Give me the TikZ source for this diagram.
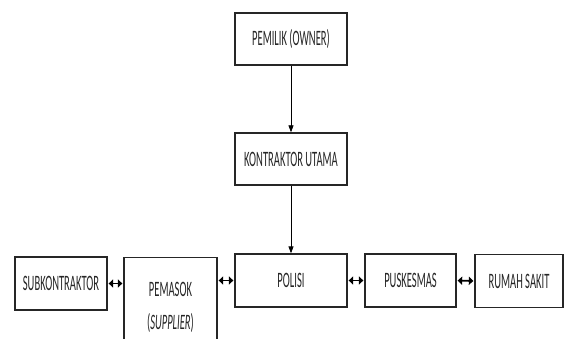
\documentclass[tikz,border=0pt]{standalone}
\usepackage{fontspec}
\setmainfont[FakeStretch=0.48]{Carlito}
\usetikzlibrary{arrows.meta}
\tikzstyle{unit}=[draw=black!85, line width=1.3pt, fill=white, align=center,
  text=black!85, font=\fontsize{22}{33}\selectfont, inner sep=0pt]
\tikzstyle{flow}=[line width=0.8pt, -{Triangle[length=7pt,width=5pt]}]
\tikzstyle{link}=[line width=1.8pt,
  {Triangle[length=4.5pt,width=8pt]}-{Triangle[length=4.5pt,width=8pt]}]

\begin{document}
\begin{tikzpicture}[x=1pt, y=-1pt]
          \useasboundingbox (0, 0) rectangle (564, 339);
          \clip (0, 0) rectangle (564, 339);
          \node[unit, minimum width=112pt, minimum height=52pt]
            (owner) at (291, 39) {PEMILIK (OWNER)};
          \node[unit, minimum width=112pt, minimum height=52pt]
            (main) at (291, 159) {KONTRAKTOR UTAMA};
          \node[unit, minimum width=92pt, minimum height=53pt]
            (sub) at (61, 283.5) {SUBKONTRAKTOR};
          \node[unit, minimum width=93pt, minimum height=100pt, anchor=north]
            (supplier) at (170.5, 257) {PEMASOK\\(\textit{SUPPLIER})};
          \node[unit, minimum width=112pt, minimum height=53pt]
            (police) at (291, 280.5) {POLISI};
          \node[unit, minimum width=91pt, minimum height=53pt]
            (clinic) at (410.5, 280.5) {PUSKESMAS};
          \node[unit, minimum width=88pt, minimum height=53pt]
            (hospital) at (519, 281) {RUMAH SAKIT};
          \draw[flow] (owner) -- (main);
          \draw[flow] (main) -- (police);
          \draw[link] ([xshift=1pt]sub.east) -- ([xshift=-1pt]sub.east -| supplier.west);
          \draw[link] ([xshift=1pt]supplier.east |- police) -- ([xshift=-1pt]police.west);
          \draw[link] ([xshift=1pt]police.east) -- ([xshift=-1pt]clinic.west);
          \draw[link] ([xshift=1pt]clinic.east) -- ([xshift=-1pt]hospital.west);
        \end{tikzpicture}
\end{document}
